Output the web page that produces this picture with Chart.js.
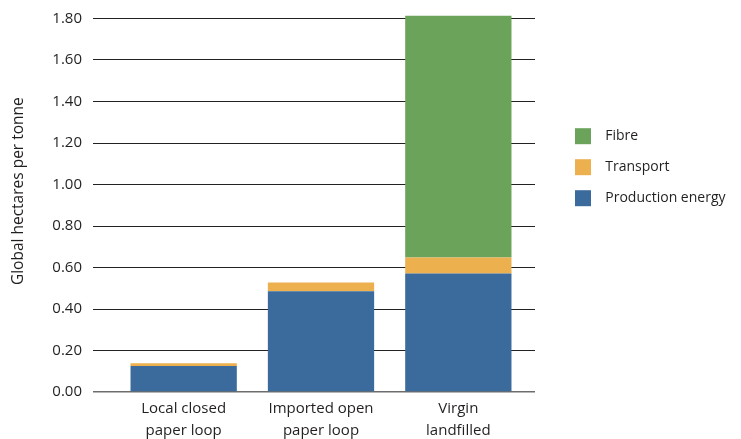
<!DOCTYPE html>
<html>
<head>
<meta charset="utf-8">
<script src="https://cdn.jsdelivr.net/npm/chart.js@4.4.0/dist/chart.umd.min.js"></script>
<style>
  html, body { margin: 0; padding: 0; background: #fff; }
  #wrap { width: 741px; height: 439px; }
</style>
</head>
<body>
<div id="wrap"><canvas id="chart" width="741" height="439"></canvas></div>
<script>
// values
const categories = [['Local closed', 'paper loop'], ['Imported open', 'paper loop'], ['Virgin', 'landfilled']];
const productionEnergy = [0.125, 0.485, 0.571];
const transport = [0.014, 0.043, 0.077];
const fibre = [null, null, 1.165];
const yTicks = { min: 0, max: 1.8, step: 0.2 };

const FONT = "'Open Sans', sans-serif";
const TEXT = '#231f20';
const gridColor = (c) => (c.tick && c.tick.value === 0 ? '#6d6d6d' : '#222222');
const gridWidth = (c) => (c.tick && c.tick.value === 0 ? 1.5 : 1);

// the legend box is squeezed by the layout, let it run to the canvas edge
const legendWiden = {
  id: 'legendWiden',
  afterLayout(chart) {
    const lg = chart.legend;
    if (!lg) return;
    lg.right = chart.width;
    lg.width = lg.right - lg.left;
  },
};

const ctx = document.getElementById('chart').getContext('2d');

new Chart(ctx, {
  type: 'bar',
  data: {
    labels: categories,
    datasets: [
      { label: 'Production energy', data: productionEnergy, backgroundColor: '#3a6b9c' },
      { label: 'Transport', data: transport, backgroundColor: '#edb04e' },
      { label: 'Fibre', data: fibre, backgroundColor: '#6ba35a' },
    ],
  },
  options: {
    responsive: false,
    animation: false,
    // right padding keeps the legend box where the reference has it
    layout: { padding: { top: 17, right: 69 } },
    datasets: {
      bar: { categoryPercentage: 1, barPercentage: 0.774, borderWidth: 0, clip: false },
    },
    scales: {
      x: {
        stacked: true,
        grid: { display: false, drawTicks: false },
        border: { display: false },
        ticks: { color: TEXT, padding: 6, font: { family: FONT, size: 15, lineHeight: 1.45 } },
        afterFit: (scale) => { scale.height = 47; },
      },
      y: {
        stacked: true,
        position: 'left',
        min: yTicks.min,
        max: yTicks.max,
        border: { display: false },
        grid: { color: gridColor, lineWidth: gridWidth, tickLength: 22 },
        ticks: {
          stepSize: yTicks.step,
          color: TEXT,
          padding: 11,
          font: { family: FONT, size: 15, lineHeight: 1 },
          callback: (v) => Number(v).toFixed(2),
        },
        title: {
          display: true,
          text: '       Global hectares per tonne',
          color: TEXT,
          font: { family: FONT, size: 15.5 },
          padding: { top: 9, bottom: 0 },
        },
        afterFit: (scale) => { scale.width = 115; },
      },
      y2: {
        position: 'right',
        min: yTicks.min,
        max: yTicks.max,
        border: { display: false },
        grid: { drawOnChartArea: false, color: gridColor, lineWidth: gridWidth, tickLength: 8 },
        ticks: { display: false, stepSize: yTicks.step },
        afterFit: (scale) => { scale.width = 33; },
      },
    },
    plugins: {
      tooltip: { enabled: false },
      legend: {
        position: 'right',
        align: 'start',
        reverse: true,
        title: { display: true, text: '', font: { size: 1 }, padding: { top: 95, bottom: 0 } },
        labels: {
          boxWidth: 16,
          boxHeight: 16,
          padding: 15,
          color: TEXT,
          font: { family: FONT, size: 14 },
          generateLabels: (chart) =>
            Chart.defaults.plugins.legend.labels.generateLabels(chart).map((l) => ({ ...l, text: '  ' + l.text })),
        },
      },
    },
  },
  plugins: [legendWiden],
});
</script>
</body>
</html>
